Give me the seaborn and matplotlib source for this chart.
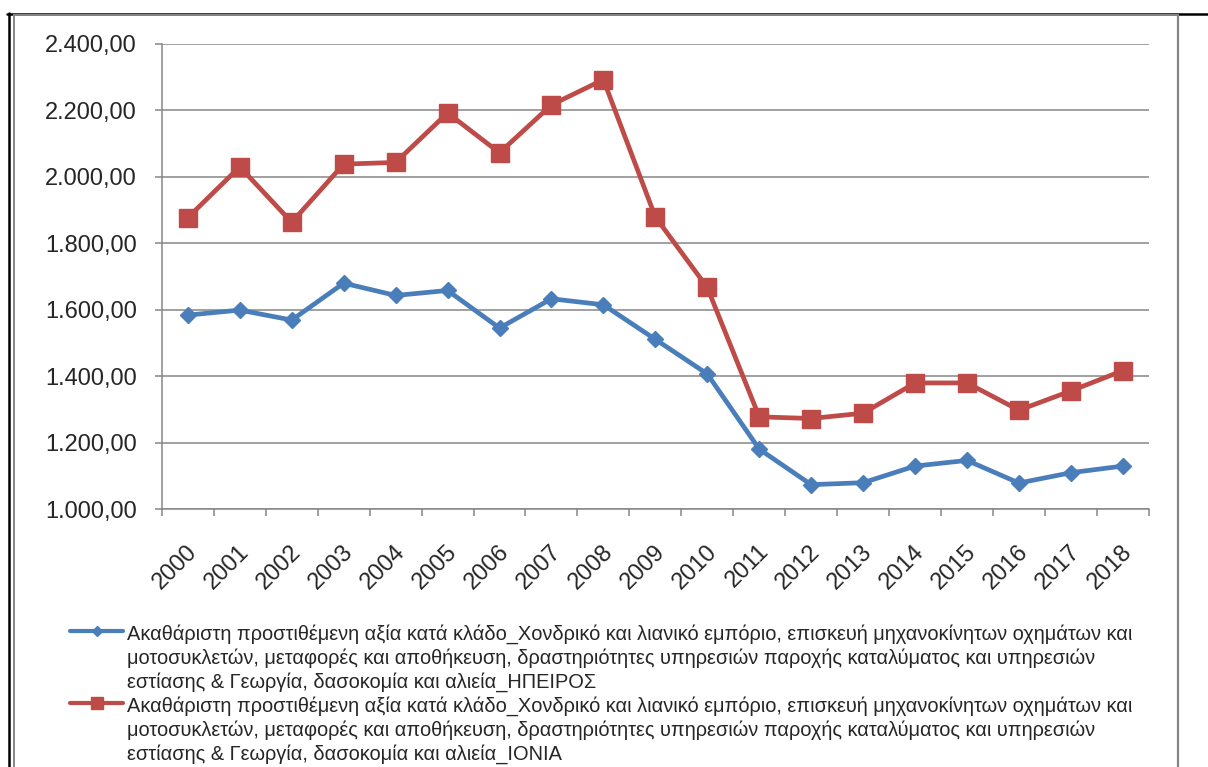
import matplotlib
matplotlib.use("Agg")
import matplotlib.pyplot as plt
import matplotlib.transforms as mtransforms
from matplotlib.lines import Line2D
from matplotlib.ticker import FuncFormatter, FixedLocator
import seaborn as sns
import pandas as pd

# Data
years = list(range(2000, 2019))
epirus = [1584, 1599, 1569, 1680, 1643, 1658, 1545, 1633, 1615, 1511,
          1407, 1181, 1074, 1080, 1130, 1147, 1079, 1110, 1130]
ionia = [1877, 2030, 1863, 2038, 2043, 2192, 2072, 2216, 2292, 1879,
         1667, 1278, 1273, 1289, 1380, 1380, 1298, 1356, 1417]
regions = ["ΗΠΕΙΡΟΣ", "ΙΟΝΙΑ"]
label_base = ("Ακαθάριστη προστιθέμενη αξία κατά κλάδο_Χονδρικό και λιανικό εμπόριο, "
              "επισκευή μηχανοκίνητων οχημάτων και\n"
              "μοτοσυκλετών, μεταφορές και αποθήκευση, δραστηριότητες υπηρεσιών "
              "παροχής καταλύματος και υπηρεσιών\n"
              "εστίασης & Γεωργία, δασοκομία και αλιεία_")

df = pd.DataFrame({
    "year": years * 2,
    "value": epirus + ionia,
    "region": [regions[0]] * len(years) + [regions[1]] * len(years),
})

sns.set_style("white")
plt.rcParams["font.family"] = ["Liberation Sans", "DejaVu Sans"]

fig, ax = plt.subplots(figsize=(12.08, 7.67), dpi=100)
fig.subplots_adjust(left=0.134, right=0.951, bottom=0.336, top=0.943)

colors = {regions[0]: "#4A7EBB", regions[1]: "#BE4B48"}
markers = {regions[0]: "D", regions[1]: "s"}
sizes = {regions[0]: 8.5, regions[1]: 13.5}

for reg in regions:
    sub = df[df["region"] == reg]
    sns.lineplot(data=sub, x="year", y="value", ax=ax, color=colors[reg],
                 marker=markers[reg], markersize=sizes[reg], markeredgewidth=1,
                 markeredgecolor=colors[reg], linewidth=3.4,
                 label=label_base + reg, legend=False)

grey = "#868686"
ax.set_ylim(1000, 2400)
ax.set_yticks(range(1000, 2401, 200))
ax.yaxis.set_major_formatter(FuncFormatter(
    lambda v, p: f"{v:,.2f}".replace(",", "X").replace(".", ",").replace("X", ".")))
ax.grid(axis="y", color=grey, linewidth=1.1)
ax.set_axisbelow(True)

ax.set_xlim(years[0] - 0.5, years[-1] + 0.5)
ax.set_xticks(years)
ax.set_xticklabels([str(y) for y in years])
ax.xaxis.set_minor_locator(FixedLocator([y - 0.5 for y in years] + [years[-1] + 0.5]))
ax.tick_params(axis="x", which="major", length=0, pad=28, labelsize=17,
               labelrotation=45)
ax.tick_params(axis="x", which="minor", length=5, width=1.1, color=grey,
               direction="out", bottom=True)
ax.tick_params(axis="y", length=5, width=1.1, color=grey, direction="out",
               left=True, pad=13, labelsize=17)
offset = mtransforms.ScaledTranslation(0.06, 0, fig.dpi_scale_trans)
for lab in ax.get_xticklabels():
    lab.set_ha("right")
    lab.set_va("center")
    lab.set_rotation_mode("anchor")
    lab.set_transform(lab.get_transform() + offset)

for side in ["top", "right"]:
    ax.spines[side].set_visible(False)
for side in ["left", "bottom"]:
    ax.spines[side].set_color(grey)
    ax.spines[side].set_linewidth(1.1)
ax.set_xlabel("")
ax.set_ylabel("")

handles, labels = ax.get_legend_handles_labels()
leg = fig.legend(handles, labels, loc="upper left", bbox_to_anchor=(0.058, 0.1865),
                 frameon=False, fontsize=14.4, handlelength=2.65, handletextpad=0.2,
                 labelspacing=0.2, borderpad=0, borderaxespad=0)
for t in leg.get_texts():
    t.set_linespacing(1.29)
for col in leg._legend_handle_box.get_children():
    for item in col.get_children():
        item.align = "top"
leg.legend_handles[0].set_markersize(5.5)
leg.legend_handles[1].set_markersize(9)
for h in leg.legend_handles:
    h.set_linewidth(3)

# page / chart-area borders
fig.add_artist(Line2D([7 / 1208, 1], [1 - 13.5 / 767] * 2, color="black", linewidth=1.8,
                      transform=fig.transFigure))
fig.add_artist(Line2D([8.5 / 1208] * 2, [0, 1 - 13 / 767], color="black", linewidth=1.8,
                      transform=fig.transFigure))
fig.add_artist(Line2D([13.5 / 1208] * 2, [0, 1 - 15 / 767], color=grey, linewidth=1.4,
                      transform=fig.transFigure))
fig.add_artist(Line2D([13.5 / 1208, 1177.5 / 1208], [1 - 15 / 767] * 2, color=grey,
                      linewidth=1.4, transform=fig.transFigure))
fig.add_artist(Line2D([1177.5 / 1208] * 2, [0, 1 - 15 / 767], color=grey, linewidth=1.6,
                      transform=fig.transFigure))

fig.savefig("out.png", dpi=100)
